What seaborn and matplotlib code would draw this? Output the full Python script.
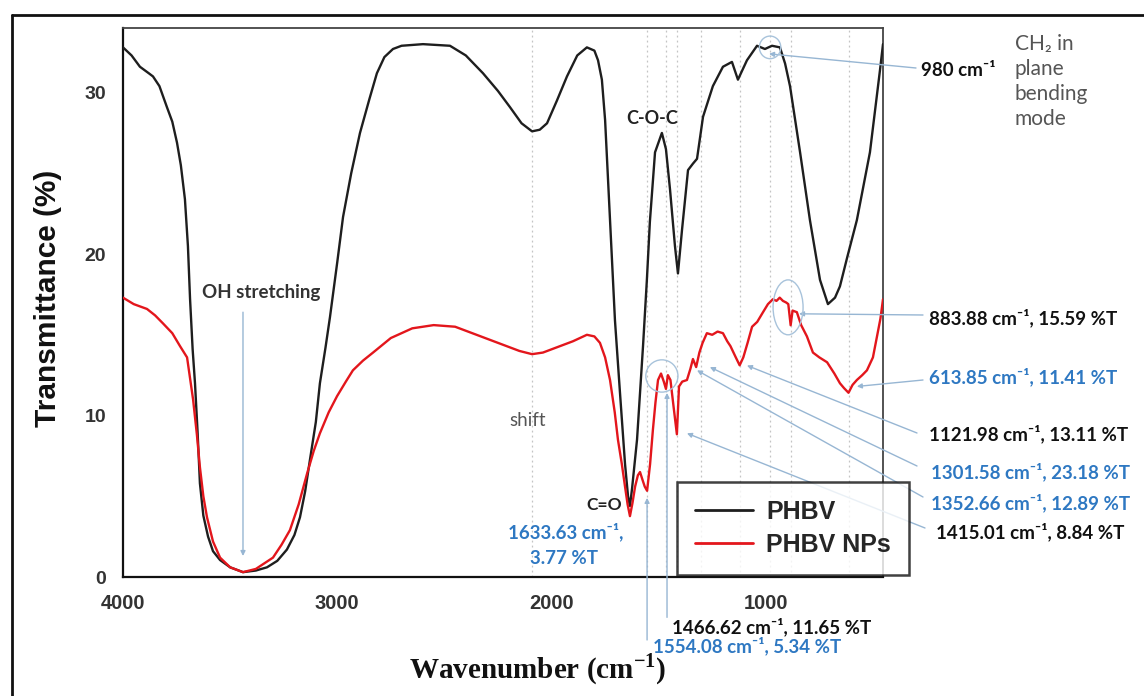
import matplotlib
matplotlib.use("Agg")
import matplotlib.pyplot as plt
from matplotlib.patches import Ellipse
from matplotlib.lines import Line2D
import pandas as pd
import seaborn as sns

# ---------------- FTIR spectra (wavenumber in cm-1, transmittance in %) ----------------
phbv_wn = [4000, 3960, 3921, 3880, 3860, 3830, 3795, 3770, 3748, 3730, 3711, 3697, 3687,
           3675, 3664, 3652, 3641, 3625, 3603, 3580, 3547, 3500, 3440, 3380, 3328, 3280,
           3235, 3200, 3174, 3150, 3127, 3100, 3081, 3055, 3034, 3000, 2973, 2935, 2894,
           2850, 2815, 2780, 2740, 2700, 2600, 2474, 2400, 2320, 2250, 2194, 2140, 2091,
           2055, 2021, 1975, 1928, 1880, 1835, 1800, 1783, 1765, 1750, 1727, 1704, 1681,
           1657, 1643, 1634, 1624, 1601, 1573, 1555, 1541, 1517, 1485, 1466, 1447, 1424,
           1410, 1391, 1363, 1340, 1321, 1293, 1247, 1200, 1158, 1130, 1088, 1041, 1004,
           971, 934, 910, 887, 840, 794, 747, 710, 677, 654, 620, 575, 514, 467, 453]
phbv_t = [32.8, 32.3, 31.6, 31.2, 31.0, 30.4, 29.1, 28.2, 26.9, 25.5, 23.4, 20.5, 17.2,
          14.1, 12.0, 9.0, 5.8, 3.8, 2.5, 1.6, 1.05, 0.6, 0.3, 0.4, 0.6, 1.0,
          1.7, 2.6, 3.7, 5.3, 7.3, 9.6, 12.0, 14.2, 16.1, 19.5, 22.3, 25.0, 27.5,
          29.6, 31.2, 32.2, 32.7, 32.9, 33.0, 32.9, 32.3, 31.2, 30.1, 29.1, 28.1, 27.6,
          27.7, 28.1, 29.5, 31.0, 32.3, 32.8, 32.6, 32.0, 30.8, 28.3, 22.1, 15.9, 11.5,
          7.0, 5.0, 4.4, 5.5, 8.5, 14.3, 18.4, 22.0, 26.3, 27.5, 26.5, 24.0, 20.5,
          18.8, 21.5, 25.2, 25.6, 25.9, 28.5, 30.4, 31.6, 31.9, 30.8, 32.0, 32.9, 32.7,
          32.9, 32.8, 31.8, 30.4, 26.3, 22.1, 18.4, 16.9, 17.3, 18.0, 19.8, 22.1, 26.3, 31.4, 33.0]

nps_wn = [4000, 3950, 3888, 3850, 3813, 3770, 3734, 3701, 3673, 3655, 3641, 3625, 3608,
          3580, 3547, 3500, 3440, 3380, 3300, 3260, 3221, 3180, 3141, 3110, 3081, 3040,
          3001, 2960, 2927, 2880, 2833, 2750, 2650, 2550, 2450, 2350, 2250, 2150, 2091,
          2040, 1980, 1900, 1835, 1800, 1774, 1750, 1727, 1705, 1690, 1672, 1657, 1645,
          1634, 1622, 1610, 1597, 1587, 1575, 1565, 1554, 1540, 1527, 1515, 1503, 1489,
          1476, 1466, 1457, 1445, 1430, 1415, 1405, 1390, 1368, 1352, 1340, 1325, 1310,
          1295, 1275, 1250, 1225, 1200, 1180, 1165, 1140, 1122, 1105, 1085, 1064, 1040,
          1013, 990, 967, 950, 935, 920, 905, 895, 884, 875, 855, 835, 808, 780, 750,
          714, 680, 654, 635, 614, 595, 575, 550, 528, 500, 481, 465, 453]
nps_t = [17.3, 16.9, 16.6, 16.2, 15.7, 15.1, 14.3, 13.6, 11.0, 8.8, 6.8, 5.0, 3.7,
         2.2, 1.2, 0.6, 0.3, 0.5, 1.2, 2.0, 2.9, 4.5, 6.4, 7.8, 8.9, 10.2,
         11.2, 12.1, 12.8, 13.4, 13.9, 14.8, 15.4, 15.6, 15.5, 15.0, 14.5, 14.0, 13.8,
         13.9, 14.2, 14.6, 15.0, 14.9, 14.5, 13.6, 12.2, 10.2, 8.5, 7.0, 5.6, 4.5,
         3.77, 4.6, 5.6, 6.3, 6.5, 6.0, 5.6, 5.34, 7.0, 9.1, 10.8, 12.2, 12.6,
         12.1, 11.65, 12.5, 12.2, 10.5, 8.84, 11.8, 12.1, 12.2, 12.89, 13.5, 13.0, 13.9,
         14.5, 15.1, 15.0, 15.2, 15.1, 14.6, 14.3, 13.6, 13.11, 13.6, 14.5, 15.5, 15.8,
         16.4, 16.9, 17.2, 17.1, 17.3, 17.1, 17.0, 16.9, 15.59, 16.5, 16.4, 15.6, 14.9, 13.9, 13.6,
         13.3, 12.6, 12.0, 11.7, 11.41, 11.9, 12.2, 12.5, 12.8, 13.6, 14.9, 16.0, 17.2]

series_names = ["PHBV", "PHBV NPs"]
x_ticks = [4000, 3000, 2000, 1000]
y_ticks = [0, 10, 20, 30]

# wavenumbers marked with faint dotted guides
guide_wn = [2090, 1554.08, 1466.62, 1415.01, 1301.58, 1121.98, 980, 883.88, 613.85]

# right-hand peak labels: (text, colour key)
right_labels = [
    ("883.88 cm\u207b\u00b9, 15.59 %T", "k"),
    ("613.85 cm\u207b\u00b9, 11.41 %T", "b"),
    ("1121.98 cm\u207b\u00b9, 13.11 %T", "k"),
    ("1301.58 cm\u207b\u00b9, 23.18 %T", "b"),
    ("1352.66 cm\u207b\u00b9, 12.89 %T", "b"),
    ("1415.01 cm\u207b\u00b9, 8.84 %T", "k"),
]
# points the right-hand labels point to (wavenumber, %T)
right_targets = [(845, 16.3), (575, 11.8), (1088, 13.1), (1261, 13.0), (1321, 12.8), (1368, 8.9)]

BLACK = "#1e1e1e"
RED = "#e3161c"
BLUE = "#2e78c2"
LEADER = "#97b6d3"

sns.set_style("white")
plt.rcParams["font.family"] = ["Lato", "DejaVu Sans"]
plt.rcParams["mathtext.fontset"] = "custom"
plt.rcParams["mathtext.rm"] = "Liberation Serif:bold"

W, H = 1144, 696
fig = plt.figure(figsize=(W / 100, H / 100), dpi=100)
ax = fig.add_axes([123 / W, 1 - 577 / H, 760 / W, 549 / H])


def fp(x, y):
    """figure-pixel position measured from the top-left corner"""
    return (x, H - y)


def ft(x, y):
    """figure fraction from top-left pixel position"""
    return (x / W, 1 - y / H)


df = pd.concat([
    pd.DataFrame({"wn": phbv_wn, "T": phbv_t, "sample": series_names[0]}),
    pd.DataFrame({"wn": nps_wn, "T": nps_t, "sample": series_names[1]}),
])

for wn in guide_wn:
    ax.axvline(wn, color="#c4c4c4", ls=(0, (1.5, 2.5)), lw=0.9, zorder=0)

sns.lineplot(data=df, x="wn", y="T", hue="sample", palette={series_names[0]: BLACK, series_names[1]: RED},
             sort=False, estimator=None, lw=1.7, ax=ax, legend=False, zorder=3)

ax.set_xlim(4000, 453)
ax.set_ylim(0, 34)
ax.set_xticks(x_ticks)
ax.set_yticks(y_ticks)
ax.set_xlabel("")
ax.set_ylabel("")
ax.tick_params(direction="out", length=6, width=1.3, color="#222", labelcolor="#333", pad=6)
for lab in ax.get_yticklabels():
    lab.set_fontfamily(["Liberation Sans", "DejaVu Sans"])
    lab.set_fontweight("bold")
    lab.set_fontsize(14)
for lab in ax.get_xticklabels():
    lab.set_fontfamily(["Liberation Sans", "DejaVu Sans"])
    lab.set_fontweight("bold")
    lab.set_fontsize(14.5)
for side in ["left", "bottom"]:
    ax.spines[side].set_linewidth(1.6)
    ax.spines[side].set_color("#111")
for side in ["top", "right"]:
    ax.spines[side].set_linewidth(1.3)
    ax.spines[side].set_color("#444")

# axis titles
fig.text(*ft(48, 298), "Transmittance (%)", rotation=90, ha="center", va="center",
         fontsize=21.5, fontweight="bold", family=["Liberation Sans", "DejaVu Sans"], color="#111")
fig.text(*ft(538, 678), r"Wavenumber (cm$^{-1}$)", ha="center", va="baseline",
         fontsize=21, fontweight="bold", family=["Liberation Serif", "DejaVu Serif"], color="#111")

# band assignments inside the plot
txt = dict(fontweight="bold", ha="center", va="center")
fig.text(*ft(261, 293), "OH stretching", fontsize=13.5, color="#333", **txt)
fig.text(*ft(528, 420), "shift", fontsize=13.5, color="#555", ha="center", va="center")
fig.text(*ft(652, 118), "C-O-C", fontsize=13, color="#222", **txt)
fig.text(*ft(604, 505), "C=O", fontsize=12.5, color="#222", **txt)
fig.text(*ft(566, 532), "1633.63 cm\u207b\u00b9,", fontsize=13.5, color=BLUE, **txt)
fig.text(*ft(564, 558), "3.77 %T", fontsize=13.5, color=BLUE, **txt)
fig.text(*ft(672, 627), "1466.62 cm\u207b\u00b9, 11.65 %T", fontsize=13.5, color="#111",
         fontweight="bold", ha="left", va="center")
fig.text(*ft(653, 646), "1554.08 cm\u207b\u00b9, 5.34 %T", fontsize=13.5, color=BLUE,
         fontweight="bold", ha="left", va="center")

fig.text(*ft(921, 70), "980 cm\u207b\u00b9", fontsize=13.5, color="#111", fontweight="bold",
         ha="left", va="center")
fig.text(*ft(1015, 34), "CH\u2082 in\nplane\nbending\nmode", fontsize=15, color="#555",
         ha="left", va="top", linespacing=1.32)

label_rows = [318, 377, 434, 472, 503, 532]
label_left = [929, 929, 929, 931, 931, 936]
leader_start = [(923, 315), (923, 380), (917, 433), (917, 466), (923, 497), (925, 528)]
for (text, ck), y, x in zip(right_labels, label_rows, label_left):
    fig.text(*ft(x, y), text, fontsize=13.5, color=BLUE if ck == "b" else "#111",
             fontweight="bold", ha="left", va="center")

arrow = dict(arrowstyle="-|>", color=LEADER, lw=1.0, mutation_scale=7, shrinkA=0, shrinkB=0)
for (wn, t), (sx, sy) in zip(right_targets, leader_start):
    ax.annotate("", xy=(wn, t), xycoords="data", xytext=fp(sx, sy), textcoords="figure pixels",
                arrowprops=arrow)
ax.annotate("", xy=(985, 32.4), xycoords="data", xytext=fp(916, 68), textcoords="figure pixels",
            arrowprops=arrow)
ax.annotate("", xy=(3440, 1.3), xytext=(3440, 16.4), arrowprops=arrow)
ax.annotate("", xy=(1554.08, 4.9), xytext=(1554.08, -3.9), arrowprops=arrow)
ax.annotate("", xy=(1461, 11.4), xytext=(1461, -2.5), arrowprops=arrow)

for (cx, cy, w, h) in [(980, 32.8, 100, 1.4), (896, 16.7, 140, 3.4), (1485, 12.45, 150, 2.0)]:
    ax.add_patch(Ellipse((cx, cy), w, h, facecolor="none", edgecolor="#a8c3db", lw=1.0, zorder=4))

handles = [Line2D([], [], color=BLACK, lw=2), Line2D([], [], color=RED, lw=2)]
leg = ax.legend(handles, series_names, loc="upper left", bbox_to_anchor=(0.729, 0.173), borderaxespad=0,
                frameon=True, fancybox=False, handlelength=2.3, labelspacing=0.34, borderpad=0.72,
                handletextpad=0.55, prop={"family": ["Liberation Sans", "DejaVu Sans"], "weight": "bold", "size": 18})
leg.get_frame().set_edgecolor("#111")
leg.get_frame().set_linewidth(1.8)
leg.set_zorder(5)

# outer frame
fig.add_artist(Line2D([12 / W, 1], [1 - 15 / H] * 2, transform=fig.transFigure, color="#111", lw=2))
fig.add_artist(Line2D([12 / W] * 2, [0, 1 - 15 / H], transform=fig.transFigure, color="#111", lw=2))

fig.savefig("out.png", dpi=100)
